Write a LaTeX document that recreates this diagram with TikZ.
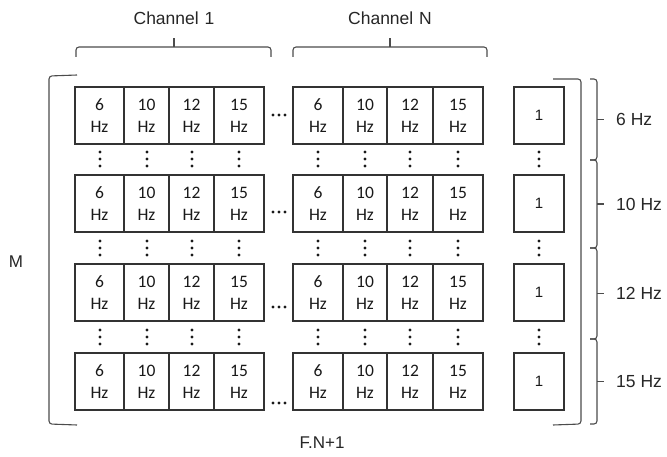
\documentclass[tikz,border=0pt]{standalone}
\usepackage{fontspec}
\setmainfont{Liberation Sans}
\newfontfamily\calfont{Carlito}
\begin{document}
\begin{tikzpicture}[x=1pt,y=-1pt,
  cell/.style={draw=black!80, line width=1.2pt, inner sep=0pt, align=center,
    font=\calfont\fontsize{17.5}{22}\selectfont, text=black!90},
  onebox/.style={draw=black!80, line width=1.2pt, inner sep=0pt,
    minimum width=50pt, minimum height=57pt, text=black!90},
  lbl/.style={font=\fontsize{17.5}{20}\selectfont, text=black!85, inner sep=0pt},
  brk/.style={draw=black!70, line width=1.1pt, rounded corners=3pt},
  dotc/.style={fill=black!90}]
\useasboundingbox (0,0) rectangle (667,457);

% rows of cells
\foreach \r/\top in {1/87,2/175,3/264,4/353}{
  \foreach \k/\a/\b/\f in {1/75/124/6, 2/124/169/10, 3/169/214/12, 4/214/264/15}{
    \node[cell, minimum width={(\b-\a)*1pt}, minimum height=57pt] (a\r\k) at ({(\a+\b)/2},{\top+28.5}) {\f\\Hz};
  }
  \foreach \k/\a/\b/\f in {1/293/343/6, 2/343/387/10, 3/387/433/12, 4/433/483/15}{
    \node[cell, minimum width={(\b-\a)*1pt}, minimum height=57pt] (n\r\k) at ({(\a+\b)/2},{\top+28.5}) {\f\\Hz};
  }
  \node[onebox] (o\r) at (539,{\top+28.5}) {\fontsize{15}{17}\selectfont 1};
}

% horizontal ellipses between channel groups
\foreach \yd in {115,212,307,403}{
  \foreach \xd in {273,279,285}{
    \fill[dotc] (\xd,\yd) circle (1.6pt);
  }
}

% vertical ellipses between rows
\foreach \yc in {159,248,337}{
  \foreach \xc in {100,147,192,239,318,365,410,458,539}{
    \foreach \dy in {-7,0,7}{
      \fill[dotc] (\xc,{\yc+\dy}) circle (1.6pt);
    }
  }
}

% top braces
\draw[brk] (76,57) -- (76,47) -- (271,47) -- (271,57);
\draw[brk, rounded corners=0pt] (174,47) -- (174,38);
\draw[brk] (293,57) -- (293,47) -- (487,47) -- (487,57);
\draw[brk, rounded corners=0pt] (390,47) -- (390,38);
\node[lbl] (ch1) at (174,18) {Channel\,\,1};
\node[lbl] (chn) at (390,18) {Channel\,\,N};

% left bracket
\draw[brk] (77,75) -- (49,76) -- (49,424) -- (77,425);
\node[lbl, font=\fontsize{17}{20}\selectfont] (m) at (16,262) {M};

% right bracket
\draw[brk] (553,79) -- (581,79) -- (581,424) -- (553,425);
\node[lbl, font=\fontsize{17}{20}\selectfont] (fn) at (322,443) {F.N+1};

% right braces with labels
\foreach \ya/\yb/\t in {79/160/6 Hz, 160/248/10 Hz, 248/339/12 Hz, 339/424/15 Hz}{
  \draw[brk] (590,\ya) -- (597,\ya) -- (597,\yb) -- (590,\yb);
  \draw[brk, rounded corners=0pt] (597,{(\ya+\yb)/2}) -- (604,{(\ya+\yb)/2});
  \node[lbl, anchor=west] at (616,{(\ya+\yb)/2}) {\t};
}
\end{tikzpicture}
\end{document}
